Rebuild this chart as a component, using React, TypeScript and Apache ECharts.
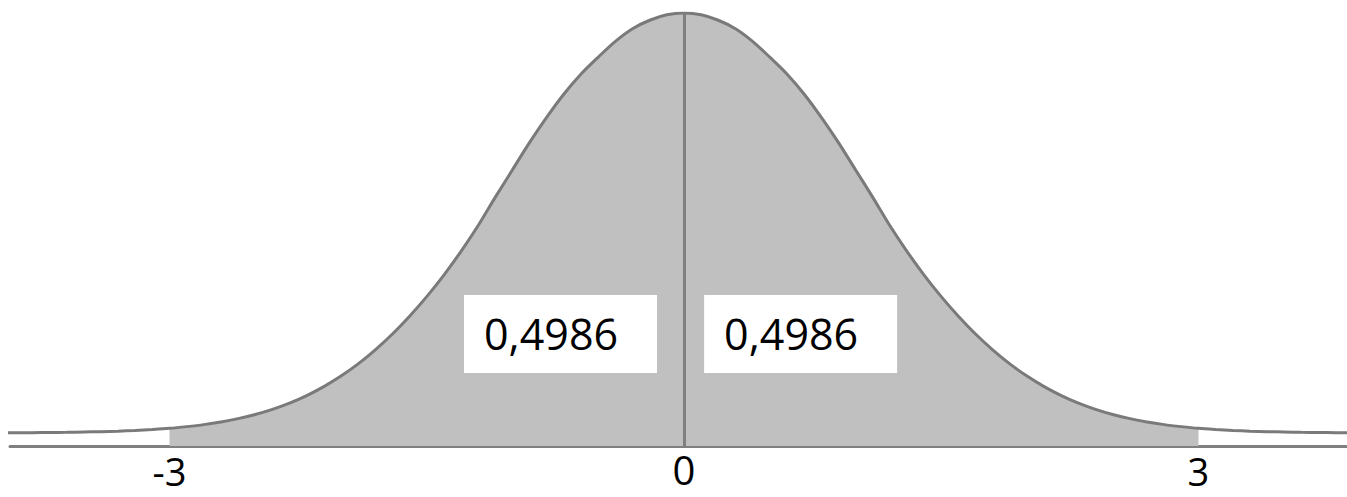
import { useEffect, useRef } from 'react';
import * as echarts from 'echarts';

// z values (standard units), step 0.1, and the curve heights
const zPoints = [
  -4, -3.9, -3.8, -3.7, -3.6, -3.5, -3.4, -3.3, -3.2, -3.1,
  -3, -2.9, -2.8, -2.7, -2.6, -2.5, -2.4, -2.3, -2.2, -2.1,
  -2, -1.9, -1.8, -1.7, -1.6, -1.5, -1.4, -1.3, -1.2, -1.1,
  -1, -0.9, -0.8, -0.7, -0.6, -0.5, -0.4, -0.3, -0.2, -0.1,
  0,
  0.1, 0.2, 0.3, 0.4, 0.5, 0.6, 0.7, 0.8, 0.9, 1,
  1.1, 1.2, 1.3, 1.4, 1.5, 1.6, 1.7, 1.8, 1.9, 2,
  2.1, 2.2, 2.3, 2.4, 2.5, 2.6, 2.7, 2.8, 2.9, 3,
  3.1, 3.2, 3.3, 3.4, 3.5, 3.6, 3.7, 3.8, 3.9, 4,
];
const densities = [
  0.0001, 0.0002, 0.0003, 0.0004, 0.0006, 0.0009, 0.0012, 0.0017, 0.0024, 0.0033,
  0.0044, 0.006, 0.0079, 0.0104, 0.0136, 0.0175, 0.0224, 0.0283, 0.0355, 0.044,
  0.054, 0.0656, 0.079, 0.094, 0.1109, 0.1295, 0.15, 0.1725, 0.197, 0.224,
  0.25, 0.276, 0.3, 0.322, 0.341, 0.357, 0.372, 0.384, 0.392, 0.3972,
  0.3989,
  0.3972, 0.392, 0.384, 0.372, 0.357, 0.341, 0.322, 0.3, 0.276, 0.25,
  0.224, 0.197, 0.1725, 0.15, 0.1295, 0.1109, 0.094, 0.079, 0.0656, 0.054,
  0.044, 0.0355, 0.0283, 0.0224, 0.0175, 0.0136, 0.0104, 0.0079, 0.006, 0.0044,
  0.0033, 0.0024, 0.0017, 0.0012, 0.0009, 0.0006, 0.0004, 0.0003, 0.0002, 0.0001,
];
const shadedFrom = -3;
const shadedTo = 3;
const tickValues = [-3, 0, 3];
const tickLabels = ['-3', '0', '3'];
const boxLabels = ['0,4986', '0,4986'];
const boxCenterZ = [-0.72, 0.68];
const boxCenterDensity = 0.094;

export default function App() {
  const ref = useRef<HTMLDivElement>(null);
  useEffect(() => {
    if (!ref.current) return;
    const chart = echarts.init(ref.current, null, { renderer: 'svg' });
    const full = zPoints.map((z, i) => [z, densities[i]]);
    const shaded = full.filter(([z]) => z >= shadedFrom - 1e-9 && z <= shadedTo + 1e-9);
    const font = "'Open Sans', 'Noto Sans', sans-serif";
    chart.setOption({
      animation: false,
      grid: { left: 10, right: 0, top: 13, bottom: 51 },
      xAxis: {
        type: 'value',
        min: -3.93,
        max: 3.866,
        axisLine: { show: true, onZero: false, lineStyle: { color: '#7f7f7f', width: 3 } },
        axisTick: { show: false },
        splitLine: { show: false },
        axisLabel: {
          customValues: tickValues,
          margin: 3,
          formatter: (v: number) => {
            const idx = tickValues.indexOf(v);
            const txt = idx >= 0 ? tickLabels[idx] : String(v);
            return v === 0 ? '{z|' + txt + '}' : '{s|' + txt + '}';
          },
          rich: {
            z: { fontSize: 40, lineHeight: 40, fontFamily: font, color: '#000' },
            s: { fontSize: 38, lineHeight: 38, fontFamily: font, color: '#000', padding: [6, 0, 0, 0] },
          },
        },
      },
      yAxis: { type: 'value', min: -0.0124, max: 0.3989, show: false },
      series: [
        {
          type: 'line',
          data: shaded,
          smooth: 0.3,
          symbol: 'none',
          lineStyle: { opacity: 0, width: 0 },
          areaStyle: { color: '#c0c0c0', opacity: 1, origin: 'start' },
          z: 1,
          silent: true,
        },
        {
          type: 'line',
          data: full,
          smooth: 0.3,
          symbol: 'none',
          lineStyle: { color: '#7a7a7a', width: 3 },
          z: 2,
          silent: true,
          markLine: {
            symbol: 'none',
            silent: true,
            label: { show: false },
            lineStyle: { color: '#7f7f7f', width: 3, type: 'solid' },
            data: [{ xAxis: 0 }],
          },
        },
      ],
    });
    const boxW = 193;
    const boxH = 78;
    const elements: any[] = [];
    boxLabels.forEach((label, i) => {
      const p = chart.convertToPixel({ gridIndex: 0 }, [boxCenterZ[i], boxCenterDensity]) as number[];
      const left = p[0] - boxW / 2;
      const top = p[1] - boxH / 2;
      elements.push({
        type: 'rect',
        shape: { x: left, y: top, width: boxW, height: boxH },
        style: { fill: '#ffffff' },
        z: 10,
      });
      elements.push({
        type: 'text',
        x: left + 20,
        y: p[1],
        style: {
          text: label,
          fontSize: 43,
          fontFamily: font,
          fill: '#000',
          verticalAlign: 'middle',
          align: 'left',
        },
        z: 11,
      });
    });
    chart.setOption({ graphic: elements });
    return () => chart.dispose();
  }, []);
  return (
    <div
      ref={ref}
      style={{ position: 'absolute', left: 0, top: 0, width: 1347, height: 497, background: '#fff' }}
    />
  );
}
